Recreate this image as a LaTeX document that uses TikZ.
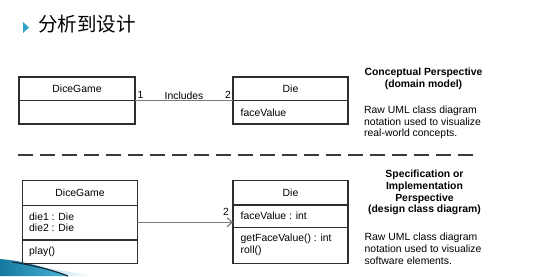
\documentclass[tikz,border=0pt]{standalone}
\usepackage{fontspec}
\setmainfont{Liberation Sans}
\newfontfamily\cjk{Noto Sans CJK SC}
\usetikzlibrary{arrows.meta}
\definecolor{boxgray}{HTML}{2E2E2E}
\definecolor{linkgray}{HTML}{7A7A7A}
\definecolor{dashgray}{HTML}{3A3A3A}
\definecolor{bullet}{HTML}{2EA2C8}
\definecolor{swooshdark}{HTML}{16789E}
\definecolor{swooshlight}{HTML}{48B6DA}
\definecolor{swooshedge}{HTML}{1B2A3A}
\begin{document}
\begin{tikzpicture}[x=1pt,y=-1pt,
  every node/.style={font=\fontsize{10.4}{11.8}\selectfont, text=black},
  umlbox/.style={draw=boxgray, line width=1.2pt, minimum width=#1, inner sep=0pt, outer sep=0pt},
  divider/.style={draw=boxgray, line width=1.2pt},
  link/.style={draw=linkgray, line width=1.4pt},
  member/.style={anchor=west, inner sep=0pt},
  classname/.style={inner sep=0pt},
  mult/.style={inner sep=0pt},
  heading/.style={align=center, inner sep=0pt, font=\fontsize{10.4}{11.7}\selectfont\bfseries},
  note/.style={align=left, anchor=west, inner sep=0pt}
]
\useasboundingbox (0,0) rectangle (533,276);

% title bar
\fill[bullet] (23,22) -- (29,27.5) -- (23,33) -- cycle;
\node[anchor=west, inner sep=0pt] (title) at (38,24.5) {\cjk\fontsize{19.5}{20}\selectfont 分析到设计};

% decorative swoosh, lower left
\shade[left color=swooshlight!60, right color=white] (20,264) .. controls (45,268) and (70,272) .. (95,276) -- (60,276) -- cycle;
\shade[left color=swooshdark, right color=swooshlight] (0,259) .. controls (25,261) and (48,268) .. (68,276) -- (0,276) -- cycle;
\draw[swooshedge, line width=1.2pt] (12,262) .. controls (35,265.5) and (52,270) .. (68,276);

% ---------- conceptual perspective ----------
\node[umlbox=116, minimum height=47] (dgA) at (77,100.5) {};
\draw[divider] (dgA.west) -- (dgA.east);
\node[classname] (dgAname) at (77,88.5) {DiceGame};

\node[umlbox=115, minimum height=47] (dieA) at (290.5,100.5) {};
\draw[divider] (dieA.west) -- (dieA.east);
\node[classname] (dieAname) at (290.5,88.5) {Die};
\node[member] (dieAval) at (240.5,112.5) {faceValue};

\draw[link] (dgA.east) -- (dieA.west);
\node[mult] (mA1) at (140.5,95) {1};
\node[mult] (incl) at (184,95.5) {Includes};
\node[mult] (mA2) at (228,95) {2};

\node[heading] (headA) at (423.5,79) {Conceptual Perspective\\(domain model)};
\node[note] (noteA) at (364,122.5) {Raw UML class diagram\\notation used to visualize\\real-world concepts.};

% separator
\draw[dashgray, line width=2pt, dash pattern=on 15pt off 7pt] (18,155) -- (476,155);

% ---------- design perspective ----------
\node[umlbox=114.5, minimum height=83] (dgB) at (80,222.2) {};
\draw[divider] (dgB.west |- 0,205.7) -- (dgB.east |- 0,205.7);
\draw[divider] (dgB.west |- 0,240) -- (dgB.east |- 0,240);
\node[classname] (dgBname) at (80,192.5) {DiceGame};
\node[member] (dgBd1) at (29,216.7) {die1 : Die};
\node[member] (dgBd2) at (29,227.9) {die2 : Die};
\node[member] (dgBplay) at (29,252) {play()};

\node[umlbox=115, minimum height=83] (dieB) at (290.5,222.2) {};
\draw[divider] (dieB.west |- 0,205) -- (dieB.east |- 0,205);
\draw[divider] (dieB.west |- 0,227.7) -- (dieB.east |- 0,227.7);
\node[classname] (dieBname) at (290.5,192.5) {Die};
\node[member] (dieBval) at (240.5,216) {faceValue : int};
\node[member] (dieBget) at (240.5,239) {getFaceValue() : int};
\node[member] (dieBroll) at (240.5,250.5) {roll()};

\draw[link, -{Straight Barb[length=5pt, width=9pt, line width=1.2pt]}] (dgB.east) -- (dieB.west);
\node[mult] (mB2) at (226,212) {2};

\node[heading] (headB) at (424.5,192.5) {Specification or\\Implementation\\Perspective\\(design class diagram)};
\node[note] (noteB) at (364.5,249) {Raw UML class diagram\\notation used to visualize\\software elements.};
\end{tikzpicture}
\end{document}
